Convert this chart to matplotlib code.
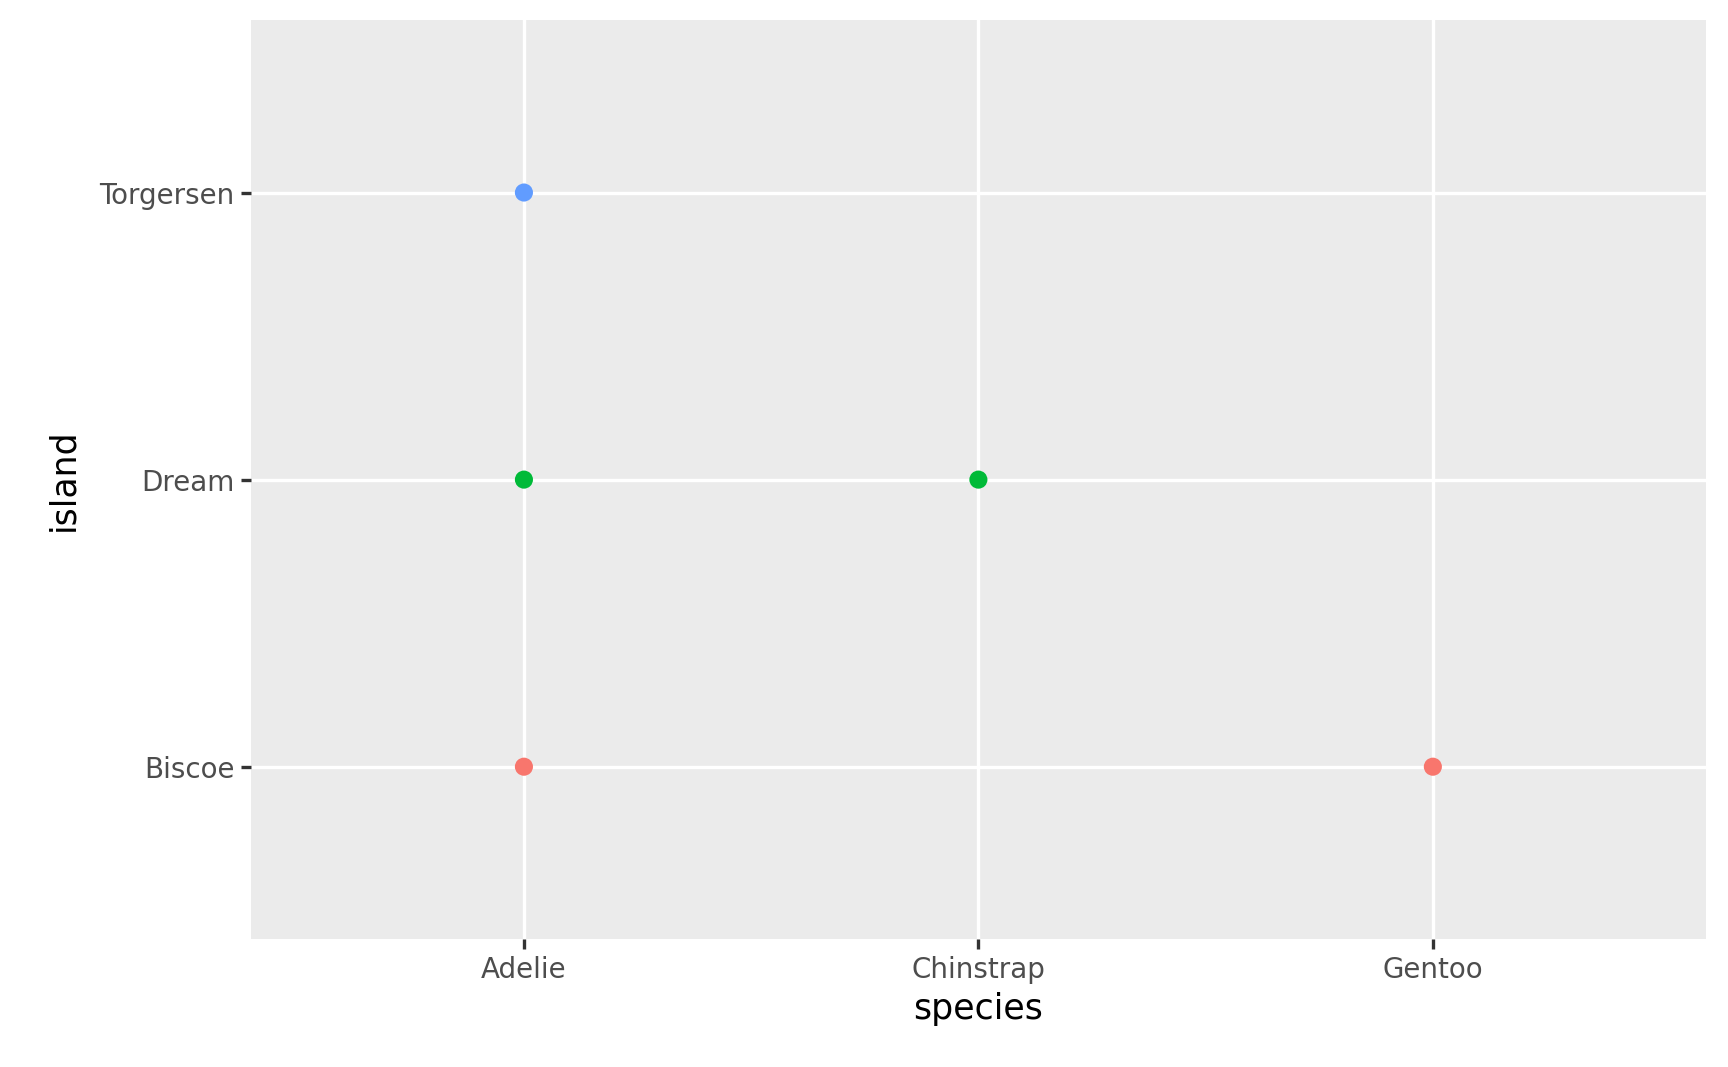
import matplotlib
matplotlib.use("Agg")
import matplotlib.pyplot as plt

species_levels = ["Adelie", "Chinstrap", "Gentoo"]
island_levels = ["Biscoe", "Dream", "Torgersen"]
pt_species = ["Adelie", "Adelie", "Adelie", "Chinstrap", "Gentoo"]
pt_island = ["Torgersen", "Biscoe", "Dream", "Dream", "Biscoe"]
island_colors = {"Biscoe": "#F8766D", "Dream": "#00BA38", "Torgersen": "#619CFF"}

fig = plt.figure(figsize=(17.28, 10.67), dpi=100)
ax = fig.add_axes([0.1454, 0.120, 0.8416, 0.861])
ax.set_facecolor("#EBEBEB")
for s in ax.spines.values():
    s.set_visible(False)

xs = [species_levels.index(s) + 1 for s in pt_species]
ys = [island_levels.index(i) + 1 for i in pt_island]
cs = [island_colors[i] for i in pt_island]
ax.scatter(xs, ys, c=cs, s=170, zorder=3, linewidths=0)

ax.set_xlim(0.4, 3.6)
ax.set_ylim(0.4, 3.6)
ax.set_xticks([1, 2, 3])
ax.set_xticklabels(species_levels)
ax.set_yticks([1, 2, 3])
ax.set_yticklabels(island_levels)
ax.grid(True, color="white", linewidth=2.4)
ax.set_axisbelow(True)
ax.tick_params(axis="both", colors="#333333", length=7, width=2.4, labelsize=20, labelcolor="#4D4D4D", pad=5)
ax.set_xlabel("species", fontsize=25, labelpad=6)
ax.set_ylabel("island", fontsize=25, labelpad=14)

fig.savefig("out.png", dpi=100)
